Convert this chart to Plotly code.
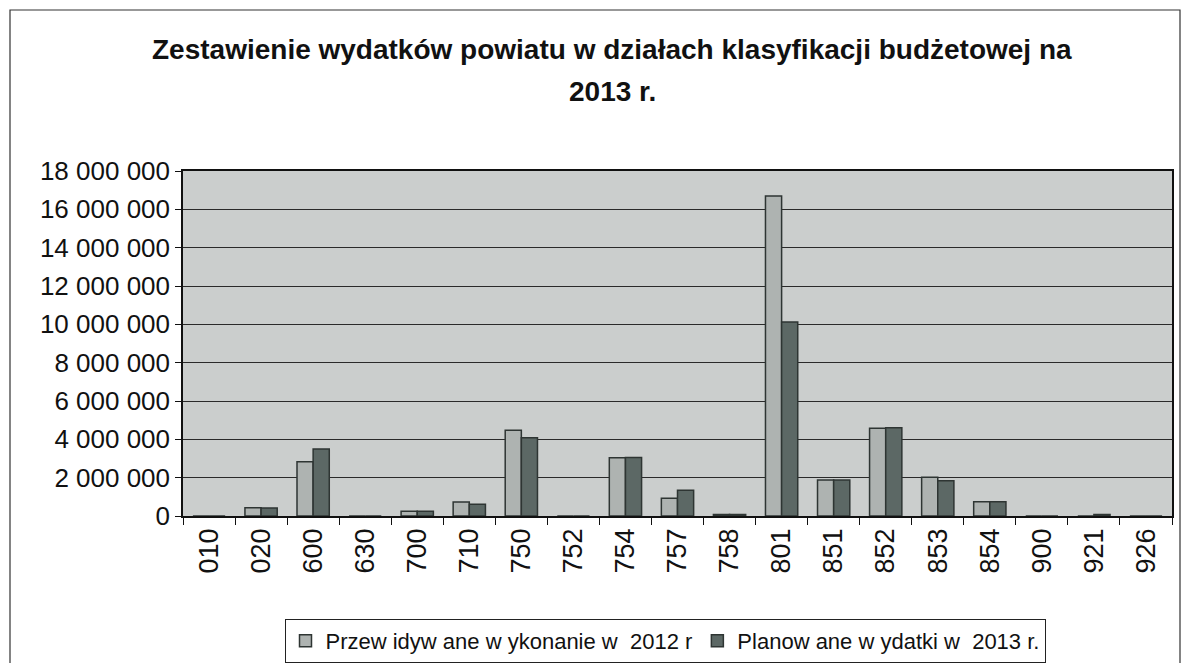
import plotly.graph_objects as go

categories = ["010", "020", "600", "630", "700", "710", "750", "752", "754", "757",
              "758", "801", "851", "852", "853", "854", "900", "921", "926"]
wykonanie_2012 = [0, 430000, 2830000, 0, 250000, 730000, 4470000, 0, 3040000, 920000,
                  80000, 16690000, 1880000, 4580000, 2020000, 750000, 0, 0, 0]
wydatki_2013 = [0, 420000, 3500000, 0, 250000, 610000, 4080000, 0, 3050000, 1340000,
                80000, 10120000, 1880000, 4600000, 1840000, 740000, 0, 80000, 0]
series_names = ["Przew idyw ane w ykonanie w  2012 r", "Planow ane w ydatki w  2013 r."]
title_lines = ["Zestawienie wydatków powiatu w działach klasyfikacji budżetowej na", "2013 r."]

FONT = "Liberation Sans, Arial, sans-serif"
W, H = 1186, 663
L, R, T, B = 183, 1172, 171, 516

def px_x(x):
    return (x - L) / (R - L)

def px_y(y):
    return (B - y) / (B - T)

fig = go.Figure()
fig.add_trace(go.Bar(x=categories, y=wykonanie_2012, name=series_names[0],
                     marker=dict(color="#aeb3b1", line=dict(color="#2e3533", width=1.5))))
fig.add_trace(go.Bar(x=categories, y=wydatki_2013, name=series_names[1],
                     marker=dict(color="#5c6865", line=dict(color="#2e3533", width=1.5))))

annotations = []
for text, yc in zip(title_lines, [50, 92]):
    annotations.append(dict(text="<b>" + text + "</b>", xref="paper", yref="paper",
                            x=px_x(612), y=px_y(yc), xanchor="center", yanchor="middle",
                            showarrow=False,
                            font=dict(family=FONT, size=28, color="#111")))

fig.update_layout(
    width=W, height=H,
    margin=dict(l=L, r=W - R, t=T, b=H - B, autoexpand=False),
    paper_bgcolor="white",
    plot_bgcolor="#cbcecd",
    barmode="group", bargap=0.38, bargroupgap=0,
    separators=", ",
    font=dict(family=FONT, size=24, color="#111"),
    showlegend=True,
    legend=dict(orientation="h", x=px_x(665), xanchor="center", y=px_y(619), yanchor="top",
                bordercolor="#222", borderwidth=1, bgcolor="white",
                font=dict(family=FONT, size=22, color="#111"),
                itemwidth=30, traceorder="normal", tracegroupgap=0),
    annotations=annotations,
    shapes=[dict(type="rect", xref="paper", yref="paper",
                 x0=px_x(10), x1=px_x(1180), y0=px_y(668), y1=px_y(10),
                 line=dict(color="#333", width=1.2), layer="below")],
)

fig.update_xaxes(type="category", tickangle=-90, ticks="outside", tickson="boundaries",
                 ticklen=7, tickcolor="#111", showline=True, linecolor="#111",
                 linewidth=1.5, mirror=True, showgrid=False, automargin=False,
                 tickfont=dict(family=FONT, size=27, color="#111"))
fig.update_yaxes(range=[0, 18000000], dtick=2000000, tickformat=",d", ticks="outside",
                 ticklen=6, tickcolor="#111", showline=True, linecolor="#111",
                 linewidth=1.5, mirror=True, showgrid=True, gridcolor="#2a2a2a",
                 gridwidth=1, zeroline=False, automargin=False,
                 tickfont=dict(family=FONT, size=26, color="#111"))

fig.write_html("out.html", config={"displayModeBar": False},
               post_script="document.body.style.margin='0';document.body.style.overflow='hidden';")
